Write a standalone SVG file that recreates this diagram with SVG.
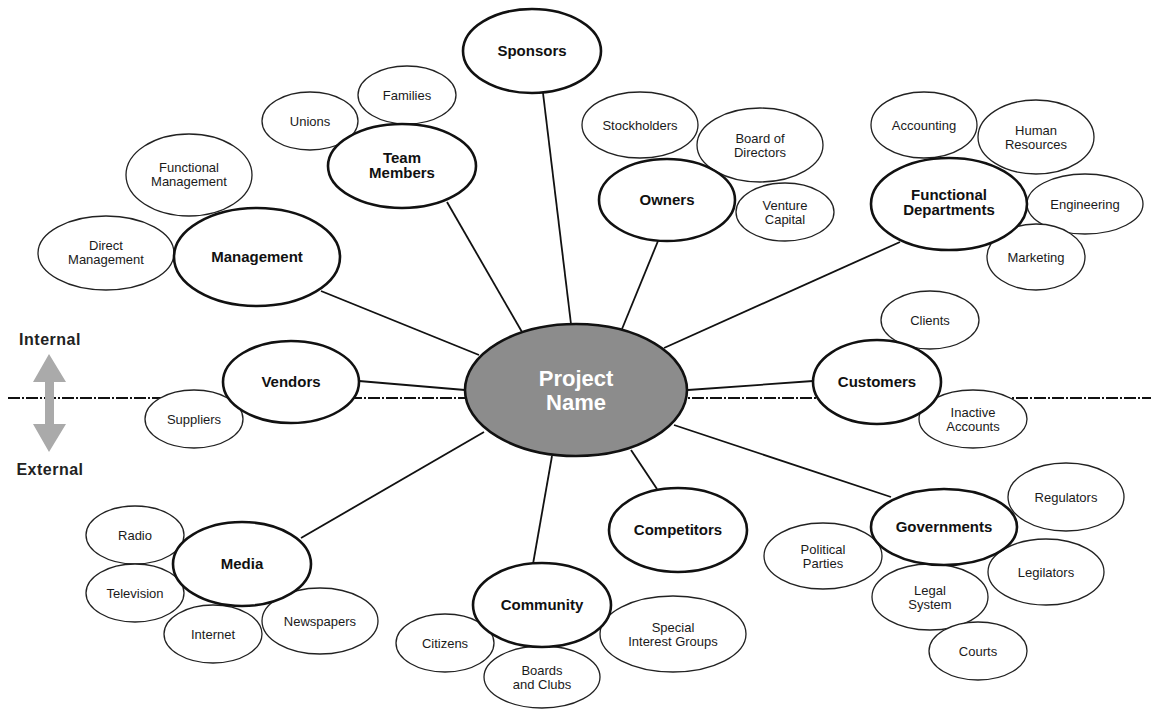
<svg xmlns="http://www.w3.org/2000/svg" width="1151" height="711" viewBox="0 0 1151 711">
<style>
.main{fill:#fff;stroke:#111;stroke-width:2.6}
.sub{fill:#fff;stroke:#222;stroke-width:1.3}
.mt{font-family:"Liberation Sans",Arial,sans-serif;font-weight:bold;font-size:15px;fill:#111;text-anchor:middle}
.st{font-family:"Liberation Sans",Arial,sans-serif;font-size:13px;fill:#1a1a1a;text-anchor:middle}
.side{font-family:"Liberation Sans",Arial,sans-serif;font-weight:bold;font-size:16px;fill:#222;text-anchor:middle;letter-spacing:0.5px}
#connectors line{stroke:#111;stroke-width:1.8}
</style>
<rect width="1151" height="711" fill="#fff"/>
<g id="boundary">
<line x1="8" y1="398" x2="1151" y2="398" stroke="#111" stroke-width="2" stroke-dasharray="12 2 2 2"/>
<polygon points="49,354 66,382 54,382 54,424 66,424 49,452 33,424 45,424 45,382 33,382" fill="#aaa"/>
<text class="side" x="50" y="345">Internal</text>
<text class="side" x="50" y="475">External</text>
</g>
<g id="connectors">
<line x1="543" y1="93" x2="571" y2="324"/>
<line x1="447" y1="202" x2="522" y2="332"/>
<line x1="658" y1="241" x2="622" y2="329"/>
<line x1="900" y1="242" x2="664" y2="348"/>
<line x1="321" y1="291" x2="479" y2="355"/>
<line x1="359" y1="381" x2="465" y2="390"/>
<line x1="813" y1="381" x2="688" y2="390"/>
<line x1="301" y1="538" x2="484" y2="432"/>
<line x1="533" y1="564" x2="552" y2="456"/>
<line x1="657" y1="489" x2="631" y2="450"/>
<line x1="891" y1="497" x2="674" y2="425"/>
</g>
<g id="unions"><ellipse class="sub" cx="310" cy="121" rx="48" ry="29"/><text class="st" x="310" y="126">Unions</text></g>
<g id="families"><ellipse class="sub" cx="407" cy="95" rx="49" ry="29"/><text class="st" x="407" y="100">Families</text></g>
<g id="functional-management"><ellipse class="sub" cx="189" cy="175" rx="63" ry="41"/><text class="st" x="189" y="172">Functional</text><text class="st" x="189" y="186">Management</text></g>
<g id="direct-management"><ellipse class="sub" cx="106" cy="253" rx="68" ry="37"/><text class="st" x="106" y="250">Direct</text><text class="st" x="106" y="264">Management</text></g>
<g id="stockholders"><ellipse class="sub" cx="640" cy="125" rx="58" ry="33"/><text class="st" x="640" y="130">Stockholders</text></g>
<g id="board-of-directors"><ellipse class="sub" cx="760" cy="145" rx="63" ry="37"/><text class="st" x="760" y="143">Board of</text><text class="st" x="760" y="157">Directors</text></g>
<g id="venture-capital"><ellipse class="sub" cx="785" cy="212" rx="49" ry="29"/><text class="st" x="785" y="210">Venture</text><text class="st" x="785" y="224">Capital</text></g>
<g id="accounting"><ellipse class="sub" cx="924" cy="125" rx="53" ry="33"/><text class="st" x="924" y="130">Accounting</text></g>
<g id="human-resources"><ellipse class="sub" cx="1036" cy="137" rx="58" ry="37"/><text class="st" x="1036" y="135">Human</text><text class="st" x="1036" y="149">Resources</text></g>
<g id="engineering"><ellipse class="sub" cx="1085" cy="204" rx="58" ry="30"/><text class="st" x="1085" y="209">Engineering</text></g>
<g id="marketing"><ellipse class="sub" cx="1036" cy="257" rx="49" ry="33"/><text class="st" x="1036" y="262">Marketing</text></g>
<g id="suppliers"><ellipse class="sub" cx="194" cy="419" rx="49" ry="29"/><text class="st" x="194" y="424">Suppliers</text></g>
<g id="clients"><ellipse class="sub" cx="930" cy="320" rx="49" ry="29"/><text class="st" x="930" y="325">Clients</text></g>
<g id="inactive-accounts"><ellipse class="sub" cx="973" cy="419" rx="54" ry="29"/><text class="st" x="973" y="417">Inactive</text><text class="st" x="973" y="431">Accounts</text></g>
<g id="radio"><ellipse class="sub" cx="135" cy="535" rx="49" ry="29"/><text class="st" x="135" y="540">Radio</text></g>
<g id="television"><ellipse class="sub" cx="135" cy="593" rx="49" ry="29"/><text class="st" x="135" y="598">Television</text></g>
<g id="internet"><ellipse class="sub" cx="213" cy="634" rx="49" ry="29"/><text class="st" x="213" y="639">Internet</text></g>
<g id="newspapers"><ellipse class="sub" cx="320" cy="621" rx="58" ry="33"/><text class="st" x="320" y="626">Newspapers</text></g>
<g id="citizens"><ellipse class="sub" cx="445" cy="643" rx="49" ry="29"/><text class="st" x="445" y="648">Citizens</text></g>
<g id="boards-and-clubs"><ellipse class="sub" cx="542" cy="677" rx="58" ry="31"/><text class="st" x="542" y="675">Boards</text><text class="st" x="542" y="689">and Clubs</text></g>
<g id="special-interest-groups"><ellipse class="sub" cx="673" cy="634" rx="73" ry="38"/><text class="st" x="673" y="632">Special</text><text class="st" x="673" y="646">Interest Groups</text></g>
<g id="regulators"><ellipse class="sub" cx="1066" cy="497" rx="58" ry="34"/><text class="st" x="1066" y="502">Regulators</text></g>
<g id="political-parties"><ellipse class="sub" cx="823" cy="556" rx="59" ry="33"/><text class="st" x="823" y="554">Political</text><text class="st" x="823" y="568">Parties</text></g>
<g id="legilators"><ellipse class="sub" cx="1046" cy="572" rx="58" ry="33"/><text class="st" x="1046" y="577">Legilators</text></g>
<g id="legal-system"><ellipse class="sub" cx="930" cy="597" rx="58" ry="33"/><text class="st" x="930" y="595">Legal</text><text class="st" x="930" y="609">System</text></g>
<g id="courts"><ellipse class="sub" cx="978" cy="651" rx="49" ry="29"/><text class="st" x="978" y="656">Courts</text></g>
<g id="sponsors"><ellipse class="main" cx="532" cy="51" rx="69" ry="42"/><text class="mt" x="532" y="56">Sponsors</text></g>
<g id="team-members"><ellipse class="main" cx="402" cy="166" rx="74" ry="42"/><text class="mt" x="402" y="163">Team</text><text class="mt" x="402" y="178">Members</text></g>
<g id="management"><ellipse class="main" cx="257" cy="257" rx="83" ry="49"/><text class="mt" x="257" y="262">Management</text></g>
<g id="owners"><ellipse class="main" cx="667" cy="200" rx="68" ry="41"/><text class="mt" x="667" y="205">Owners</text></g>
<g id="functional-departments"><ellipse class="main" cx="949" cy="204" rx="78" ry="46"/><text class="mt" x="949" y="200">Functional</text><text class="mt" x="949" y="215">Departments</text></g>
<g id="vendors"><ellipse class="main" cx="291" cy="382" rx="68" ry="41"/><text class="mt" x="291" y="387">Vendors</text></g>
<g id="customers"><ellipse class="main" cx="877" cy="382" rx="64" ry="42"/><text class="mt" x="877" y="387">Customers</text></g>
<g id="media"><ellipse class="main" cx="242" cy="564" rx="69" ry="42"/><text class="mt" x="242" y="569">Media</text></g>
<g id="community"><ellipse class="main" cx="542" cy="605" rx="69" ry="42"/><text class="mt" x="542" y="610">Community</text></g>
<g id="competitors"><ellipse class="main" cx="678" cy="530" rx="69" ry="42"/><text class="mt" x="678" y="535">Competitors</text></g>
<g id="governments"><ellipse class="main" cx="944" cy="527" rx="73" ry="38"/><text class="mt" x="944" y="532">Governments</text></g>
<g id="project-name"><ellipse cx="576" cy="390" rx="111" ry="66" fill="#8c8c8c" stroke="#111" stroke-width="2.6"/><text class="mt" x="576" y="386" style="font-size:22px;fill:#fff">Project</text><text class="mt" x="576" y="410" style="font-size:22px;fill:#fff">Name</text></g>
</svg>
